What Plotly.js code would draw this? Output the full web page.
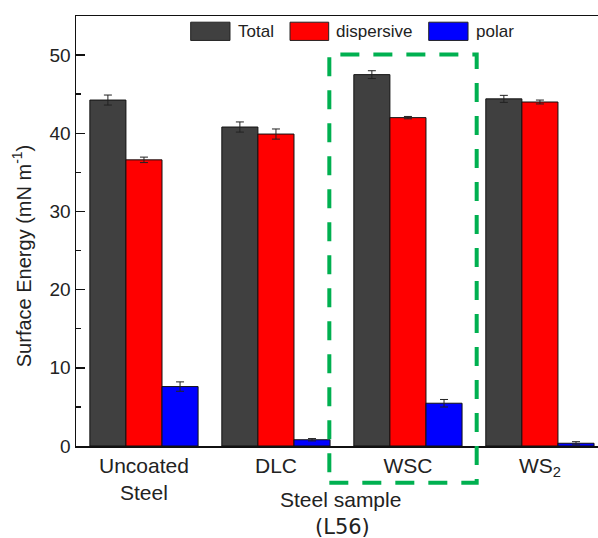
<!DOCTYPE html>
<html>
<head>
<meta charset="utf-8">
<script src="https://cdn.plot.ly/plotly-3.0.1.min.js"></script>
<style>html,body{margin:0;padding:0;background:#fff;}#chart{width:598px;height:538px;}</style>
</head>
<body>
<div id="chart"></div>
<script>
var categories = ["Uncoated<br>Steel", "DLC", "WSC", "WS<sub>2</sub>"];
var seriesNames = ["Total", "dispersive", "polar"];
var totalValues = [44.25, 40.8, 47.5, 44.4];
var totalErrors = [0.64, 0.65, 0.5, 0.45];
var dispersiveValues = [36.6, 39.9, 42.0, 44.0];
var dispersiveErrors = [0.35, 0.65, 0.15, 0.25];
var polarValues = [7.6, 0.8, 5.47, 0.35];
var polarErrors = [0.6, 0.15, 0.48, 0.2];
var yTickValues = [0, 10, 20, 30, 40, 50];
var yTitle = "Surface Energy (mN m<sup>-1</sup>)";
var xTitle = "Steel sample";
var xSubTitle = "(L56)";

var colors = ["#404040", "#ff0000", "#0000ff"];
var values = [totalValues, dispersiveValues, polarValues];
var errors = [totalErrors, dispersiveErrors, polarErrors];

var traces = seriesNames.map(function (name, i) {
  return {
    type: "bar",
    name: name,
    x: categories,
    y: values[i],
    marker: { color: colors[i], line: { color: "#111", width: 1 } },
    error_y: { type: "data", array: errors[i], visible: true, color: "#222", thickness: 1, width: 4 },
    showlegend: false
  };
});

var font = "Liberation Sans, Arial, sans-serif";
var annotations = [];
var shapes = [];
// custom legend (large swatches)
var legSw = [[0.2197, 0.2950], [0.4100, 0.4841], [0.6757, 0.7510]];
var legTx = [0.3065, 0.4943, 0.7625];
seriesNames.forEach(function (n, i) {
  shapes.push({ type: "rect", xref: "paper", yref: "paper", x0: legSw[i][0], x1: legSw[i][1], y0: 0.9432, y1: 0.9856,
    fillcolor: colors[i], line: { color: "#222", width: 1 } });
  annotations.push({ xref: "paper", yref: "paper", x: legTx[i], y: 0.9644, xanchor: "left", yanchor: "middle",
    text: n, showarrow: false, font: { family: font, size: 17, color: "#222" } });
});
// highlight box around WSC
shapes.push({ type: "rect", xref: "paper", yref: "paper", x0: 0.4853, x1: 0.7676, y0: -0.0854, y1: 0.9107,
  line: { color: "#00b050", width: 4, dash: "19px,14px" }, fillcolor: "rgba(0,0,0,0)" });
annotations.push({ xref: "paper", yref: "paper", x: 0.506, y: -0.124, xanchor: "center", yanchor: "middle",
  text: xTitle, showarrow: false, font: { family: font, size: 21, color: "#222" } });
annotations.push({ xref: "paper", yref: "paper", x: 0.51, y: -0.188, xanchor: "center", yanchor: "middle",
  text: xSubTitle, showarrow: false, font: { family: "DejaVu Sans, sans-serif", size: 21, color: "#222" } });
annotations.push({ xref: "paper", yref: "paper", x: -0.104, y: 0.443, xanchor: "center", yanchor: "middle",
  textangle: -90, text: yTitle, showarrow: false, font: { family: font, size: 20, color: "#222" } });

var layout = {
  width: 598, height: 538,
  margin: { l: 76, r: 0, t: 15.5, b: 91.5 },
  paper_bgcolor: "#fff", plot_bgcolor: "#fff",
  barmode: "group", bargap: 0.18, bargroupgap: 0,
  showlegend: false,
  font: { family: font, color: "#222" },
  xaxis: {
    type: "category", range: [-0.515, 3.44],
    showline: true, linecolor: "#111", linewidth: 1.5, mirror: true,
    ticks: "", showgrid: false, zeroline: false,
    tickfont: { family: font, size: 21, color: "#222" }
  },
  yaxis: {
    range: [0, 55], tickvals: yTickValues,
    showline: true, linecolor: "#111", linewidth: 1.5,
    ticks: "inside", ticklen: 9, tickwidth: 1.5, tickcolor: "#111",
    minor: { dtick: 5, ticks: "inside", ticklen: 5, tickwidth: 1.5, tickcolor: "#111" },
    showgrid: false, zeroline: false,
    tickfont: { family: font, size: 19, color: "#222" }
  },
  shapes: shapes,
  annotations: annotations
};

Plotly.newPlot("chart", traces, layout, { displayModeBar: false, staticPlot: true });
</script>
</body>
</html>
